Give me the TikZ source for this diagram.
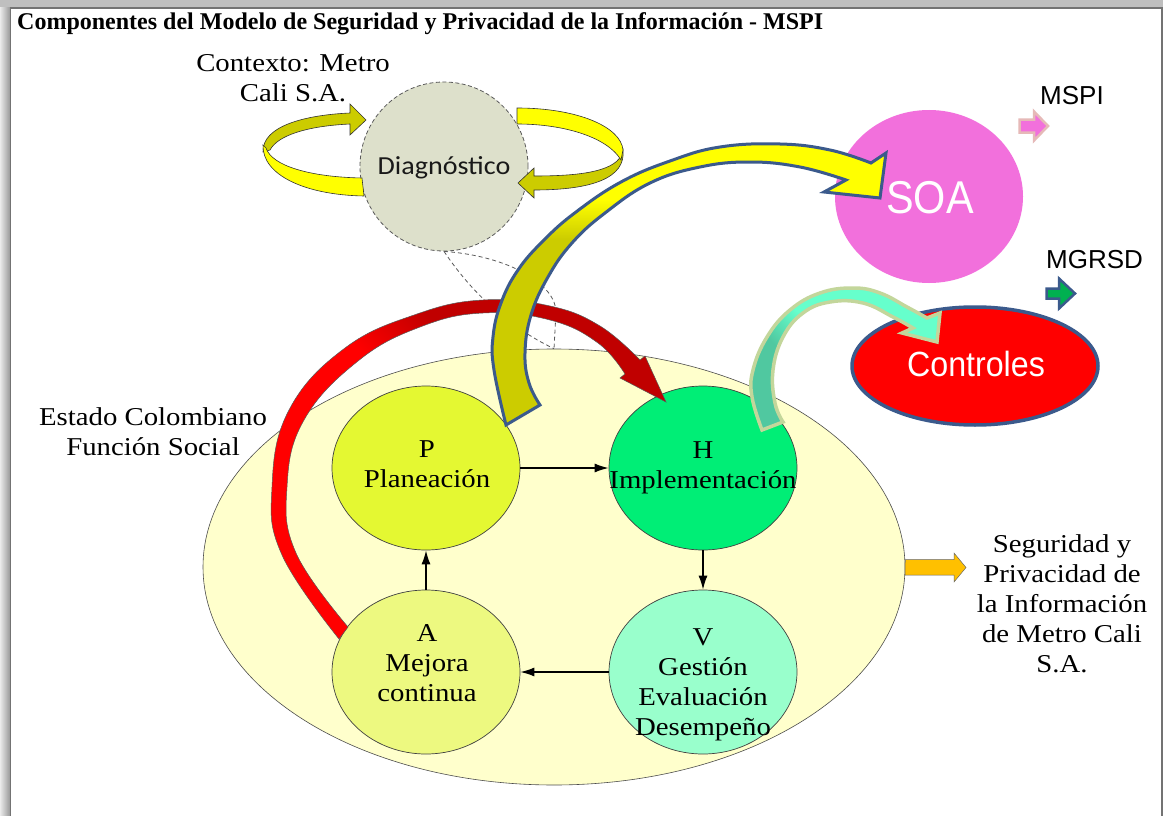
\documentclass[tikz,border=0pt]{standalone}
\usepackage{fontspec}
\setmainfont{Liberation Serif}
\newfontfamily\serifw{Liberation Serif}[FakeStretch=1.12]
\newfontfamily\calfont{Carlito}[FakeStretch=1.08]
\newfontfamily\arialf{Liberation Sans}
\newfontfamily\arialn{Liberation Sans}[FakeStretch=0.9]
\newfontfamily\arialnn{Liberation Sans}[FakeStretch=0.92]
\usetikzlibrary{shapes.geometric, arrows.meta}
\definecolor{cBig}{RGB}{255,255,204}
\definecolor{cDiag}{RGB}{221,224,203}
\definecolor{cP}{RGB}{228,248,50}
\definecolor{cH}{RGB}{0,238,118}
\definecolor{cA}{RGB}{237,249,128}
\definecolor{cV}{RGB}{153,255,204}
\definecolor{cSOA}{RGB}{242,112,220}
\definecolor{cBlue}{RGB}{59,90,140}
\definecolor{cYel}{RGB}{255,255,0}
\definecolor{cOlive}{RGB}{204,204,0}
\definecolor{cRed}{RGB}{255,0,0}
\definecolor{cDRed}{RGB}{192,0,0}
\definecolor{cTealD}{RGB}{80,200,160}
\definecolor{cTealL}{RGB}{102,255,204}
\definecolor{cTealB}{RGB}{195,214,155}
\definecolor{cOrange}{RGB}{255,192,0}
\definecolor{cPinkB}{RGB}{230,185,184}
\definecolor{cGreen}{RGB}{0,176,80}
\definecolor{cDash}{RGB}{90,90,90}
\definecolor{cFrame}{RGB}{200,200,200}
\pgfdeclareverticalshading{yelshade}{100bp}{color(0bp)=(cOlive); color(58bp)=(cOlive); color(65bp)=(cYel); color(100bp)=(cYel)}
\pgfdeclarehorizontalshading{redshade}{100bp}{color(0bp)=(cRed); color(51bp)=(cRed); color(61bp)=(cDRed); color(100bp)=(cDRed)}
\pgfdeclarehorizontalshading{tealshade}{100bp}{color(0bp)=(cTealD); color(38bp)=(cTealD); color(50bp)=(cTealL); color(100bp)=(cTealL)}
\begin{document}
\begin{tikzpicture}[x=1pt,y=-1pt,
  txt/.style={font=\serifw\fontsize{25.7}{30}\selectfont, align=center, inner sep=0pt},
  phase/.style={ellipse, draw=black!75, line width=0.7pt, minimum width=188pt, minimum height=164pt, inner sep=0pt},
  pdca/.style={draw=black, line width=1.3pt, -{Latex[length=14pt,width=9pt]}},
  loopline/.style={draw=black!80, line width=0.6pt},
  funnel/.style={draw=cDash, line width=0.8pt, dash pattern=on 4pt off 3pt}]
\useasboundingbox (0,0) rectangle (1163,816);
% frame
\fill[cFrame] (0,0) rectangle (1163,816);
\shade[left color=black!8, right color=black!40] (0,0) rectangle (10,816);
\fill[black!25] (0,0) rectangle (1163,7);
\fill[white] (11,9) rectangle (1161.5,816);
\draw[black!55, line width=1.5pt] (10.5,816) -- (10.5,8.2) -- (1161.8,8.2) -- (1161.8,816);
% title
\node[anchor=base west, inner sep=0pt, font=\fontsize{24}{28}\selectfont\bfseries] (title) at (17,30) {Componentes del Modelo de Seguridad y Privacidad de la Información - MSPI};
% big ellipse
\node[ellipse, draw=black!70, line width=0.6pt, fill=cBig, minimum width=702pt, minimum height=436pt] (E) at (554,567) {};
% diagnostic
\node[ellipse, draw=cDash, line width=0.8pt, dash pattern=on 4pt off 2.5pt, fill=cDiag, minimum width=168pt, minimum height=169pt] (D) at (444,166.5) {};
\node[anchor=base, inner sep=0pt, font=\calfont\fontsize{26}{30}\selectfont, text=black!90] (Dt) at (444,174) {Diagnóstico};
\draw[funnel] (D.south) .. controls (470,290) and (505,325) .. (E.north);
\draw[funnel] (D.south) .. controls (510,256) and (556,285) .. (556,312) -- (E.north);
% left loop
\filldraw[fill=cOlive, loopline] (263,152) .. controls (262,126) and (305,115) .. (350,113) -- (350,104) -- (366,120) -- (350,135) -- (350,124) .. controls (308,126) and (278,135) .. (270,150) -- cycle;
\filldraw[fill=cYel, loopline] (263,145) .. controls (262,175) and (305,195) .. (364,196) -- (362,178) .. controls (310,177) and (272,166) .. (266,148) -- cycle;
% right loop
\filldraw[fill=cOlive, loopline] (621,156) .. controls (612,172) and (578,176) .. (534,176) -- (534,168) -- (518,183) -- (534,198) -- (534,190) .. controls (592,190) and (626,178) .. (623,150) -- cycle;
\filldraw[fill=cYel, loopline] (517,108) .. controls (578,108) and (621,127) .. (623,150) -- (621,160) .. controls (608,138) and (566,124) .. (517,124) -- cycle;
\node[txt] (ctx) at (293,78) {Contexto: Metro\\Cali S.A.};
% PDCA
\node[phase, fill=cP] (P) at (426,468) {};
\node[phase, fill=cH] (H) at (703,468) {};
\node[phase, fill=cA] (A) at (426,672) {};
\node[phase, fill=cV] (V) at (703,672) {};
\draw[pdca] (P) -- (H);
\draw[pdca] (H) -- (V);
\draw[pdca] (V) -- (A);
\draw[pdca] (A) -- (P);
% red arrow A -> H
\shadedraw[shading=redshade, shading angle=45, draw=black!65, line width=0.5pt]
 plot[smooth, tension=0.7] coordinates {(339,639) (282,555) (272,487) (289,410) (345,348) (417,314) (483,300) (550,306) (600,326) (640,360)}
 -- (645,356) -- (666,402) -- (620,378) -- (625,374)
 -- plot[smooth, tension=0.7] coordinates {(625,374) (598,343) (550,320) (483,313) (420,327) (358,361) (304,420) (287,487) (296,553) (348,627)}
 -- cycle;
\node[txt] (Pt) at (427,464.6) {P\\Planeación};
\node[txt] (Ht) at (703,467.4) {H\\Implementación};
\node[txt] (At) at (427,663.6) {A\\Mejora\\continua};
\node[txt] (Vt) at (703,684.4) {V\\Gestión\\Evaluación\\Desempeño};
\node[txt] (est) at (153,432) {Estado Colombiano\\Función Social};
% SOA and Controles
\node[ellipse, fill=cSOA, minimum width=188pt, minimum height=173pt] (S) at (929,196.5) {};
\node[anchor=base, inner sep=0pt, text=white, font=\arialn\fontsize{46}{50}\selectfont] (St) at (930,213) {SOA};
\node[ellipse, fill=cRed, draw=cBlue, line width=3.5pt, minimum width=246pt, minimum height=118pt] (C) at (975,366) {};
\node[anchor=base, inner sep=0pt, text=white, font=\arialnn\fontsize{35}{40}\selectfont] (Ct) at (976,376) {Controles};
% yellow arrow P -> SOA
\shadedraw[shading=yelshade, draw=cBlue, line width=3pt]
 plot[smooth, tension=0.7] coordinates {(506,425) (494,370) (493,337) (501,303) (518,270) (544,240) (576,212) (621,182) (670,161) (720,147) (780,144) (830,150) (871,163)}
 -- (886,153) -- (880,198) -- (824,192) -- (846,180)
 -- plot[smooth, tension=0.7] coordinates {(846,180) (800,167) (750,162) (700,167) (650,183) (605,213) (572,243) (548,277) (531,315) (525,353) (529,383) (540,405)}
 -- cycle;
% teal arrow H -> Controles
\shadedraw[shading=tealshade, shading angle=45, draw=cTealB, line width=3.5pt]
 plot[smooth, tension=0.7] coordinates {(762,430) (752,397) (753,370) (767,337) (790,310) (820,293) (853,288) (880,293) (907,307) (927,318)}
 -- (940,313) -- (937,342) -- (902,333) -- (913,328)
 -- plot[smooth, tension=0.7] coordinates {(913,328) (893,317) (863,303) (830,302) (803,313) (783,337) (773,370) (775,403) (783,422)}
 -- cycle;
% labels right
\node[anchor=base west, inner sep=0pt, font=\arialf\fontsize{26}{30}\selectfont] (mspi) at (1040,105) {MSPI};
\node[anchor=base west, inner sep=0pt, font=\arialf\fontsize{26}{30}\selectfont] (mgrsd) at (1046,268) {MGRSD};
\filldraw[fill=cSOA, draw=cPinkB, line width=2.5pt] (1019.5,119.5) -- (1034,119.5) -- (1034,111.5) -- (1048,126) -- (1034,140.5) -- (1034,132.5) -- (1019.5,132.5) -- cycle;
\filldraw[fill=cGreen, draw=cBlue, line width=2.5pt] (1046.5,288.5) -- (1059,288.5) -- (1059,278.5) -- (1075,293.5) -- (1059,308.5) -- (1059,298.5) -- (1046.5,298.5) -- cycle;
\filldraw[fill=cOrange, draw=black!60, line width=0.5pt] (E.east) ++(0,-7.5) -- (954,559.5) -- (954,553) -- (966,567.5) -- (954,582) -- (954,575) -- (905,575) -- cycle;
\node[txt] (res) at (1062,603.3) {Seguridad y\\Privacidad de\\la Información\\de Metro Cali\\S.A.};
\end{tikzpicture}
\end{document}
